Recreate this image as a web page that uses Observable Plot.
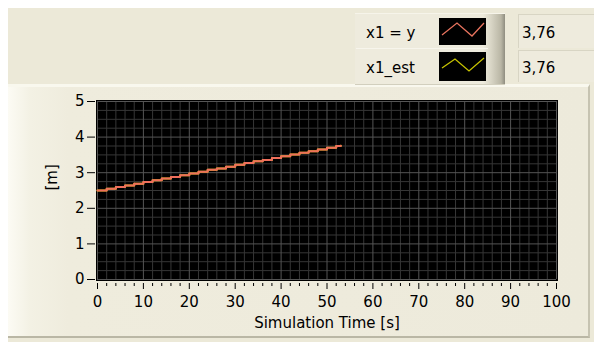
<!DOCTYPE html>
<html>
<head>
<meta charset="utf-8">
<script src="https://cdn.jsdelivr.net/npm/d3@7"></script>
<script src="https://cdn.jsdelivr.net/npm/@observablehq/plot@0.6"></script>
<style>
  html, body { margin: 0; padding: 0; background: #fff; }
  #root { position: relative; width: 594px; height: 342px; overflow: hidden; background: #fff; font-family: "DejaVu Sans", sans-serif; }
  .abs { position: absolute; box-sizing: border-box; }
  #root svg.plot { position: absolute; left: 0; top: 0; }
</style>
</head>
<body>
<div id="root">
  <div class="abs" style="left:8px;top:8px;width:586px;height:334px;background:#ECE9D8"></div>
  <div class="abs" style="left:8px;top:84px;width:582px;height:254px;background:linear-gradient(to right,#FCFBF4 0px,#F3F1E4 22px,#EFECDD 60px,#EDEADB 100%);border-top:3px solid #F9F8EE;border-right:2px solid #C6C3B1;border-bottom:2px solid #BAB7A5"></div>
  <!-- legend panel -->
  <div class="abs" style="left:355px;top:13px;width:150px;height:72px;background:linear-gradient(to right,#EEEBDD 0,#EEEBDD 128px,#D9D6C6 136px,#B9B6A5 146px,#8F8D80 150px);border-top:1px solid #F6F4EA;border-bottom:1px solid #D2CFBE"></div>
  <div class="abs" style="left:356px;top:48px;width:132px;height:1px;background:#F7F5EC"></div>
  <div class="abs" id="leg1" style="left:366px;top:23px;font-size:15px;line-height:20px;color:#000"></div>
  <div class="abs" id="leg2" style="left:366px;top:58px;font-size:15px;line-height:20px;color:#000"></div>
  <svg class="abs" style="left:439px;top:18px" width="47" height="27"><rect width="47" height="27" fill="#000"/><polyline points="3,17 18,5 33,18 45,5" fill="none" stroke="#E8735E" stroke-width="1.3"/></svg>
  <svg class="abs" style="left:439px;top:52px" width="47" height="29"><rect width="47" height="29" fill="#000"/><polyline points="3,16 16,7 30,19 45,6" fill="none" stroke="#C8C400" stroke-width="1.3"/></svg>
  <!-- value boxes -->
  <div class="abs" style="left:518px;top:14px;width:80px;height:34px;background:#EEEBDD;border-top:1px solid #D8D5C4;border-left:1px solid #D8D5C4"></div>
  <div class="abs" style="left:518px;top:50px;width:80px;height:32px;background:#EEEBDD;border-top:1px solid #D8D5C4;border-left:1px solid #D8D5C4"></div>
  <div class="abs" id="val1" style="left:522px;top:23px;font-size:15px;line-height:20px;color:#000"></div>
  <div class="abs" id="val2" style="left:522px;top:58px;font-size:15px;line-height:20px;color:#000"></div>
</div>
<script>
// Simulation time [s] (sample instants) and measured values [m]
const time = [0, 2, 4, 6, 8, 10, 12, 14, 16, 18, 20, 22, 24, 26, 28, 30, 32, 34, 36, 38, 40, 42, 44, 46, 48, 50, 52, 53];
const x1Y = [2.50, 2.55, 2.60, 2.64, 2.69, 2.74, 2.79, 2.84, 2.88, 2.93, 2.98, 3.03, 3.08, 3.12, 3.17, 3.22, 3.27, 3.32, 3.36, 3.41, 3.46, 3.51, 3.56, 3.60, 3.65, 3.70, 3.75, 3.76];
const x1Est = [2.50, 2.55, 2.60, 2.64, 2.69, 2.74, 2.79, 2.84, 2.88, 2.93, 2.98, 3.03, 3.08, 3.12, 3.17, 3.22, 3.27, 3.32, 3.36, 3.41, 3.46, 3.51, 3.56, 3.60, 3.65, 3.70, 3.75, 3.76];
const seriesNames = ["x1 = y", "x1_est"];
const currentValues = ["3,76", "3,76"];
const xTicks = [0, 10, 20, 30, 40, 50, 60, 70, 80, 90, 100];
const yTicks = [0, 1, 2, 3, 4, 5];
const xLabel = "Simulation Time [s]";
const yLabel = "[m]";

const xMinor = d3.range(0, 101, 2).filter(v => v % 10 !== 0);
const yMinor = d3.range(0, 5.001, 0.25).filter(v => Math.abs(v - Math.round(v)) > 1e-9);

const dataY = time.map((t, i) => ({t, v: x1Y[i]}));
const dataEst = time.map((t, i) => ({t, v: x1Est[i]}));

document.getElementById("leg1").textContent = seriesNames[0];
document.getElementById("leg2").textContent = seriesNames[1];
document.getElementById("val1").textContent = currentValues[0];
document.getElementById("val2").textContent = currentValues[1];

const chart = Plot.plot({
  width: 594,
  height: 342,
  marginLeft: 97,
  marginRight: 38,
  marginTop: 101,
  marginBottom: 63,
  style: {background: "transparent", fontFamily: "DejaVu Sans, sans-serif", fontSize: "15px", color: "#000", overflow: "visible"},
  x: {domain: [0, 100]},
  y: {domain: [0, 5]},
  marks: [
    Plot.frame({fill: "#000", stroke: "#000", inset: -1}),
    Plot.ruleX(xMinor, {x: d => d, stroke: "#363636", strokeWidth: 1}),
    Plot.ruleY(yMinor, {y: d => d, stroke: "#363636", strokeWidth: 1}),
    Plot.ruleX(xTicks, {x: d => d, stroke: "#555", strokeWidth: 1}),
    Plot.ruleY(yTicks, {y: d => d, stroke: "#555", strokeWidth: 1}),
    Plot.line(dataEst, {x: "t", y: "v", curve: "step-after", stroke: "#C8C400", strokeWidth: 2}),
    Plot.line(dataY, {x: "t", y: "v", curve: "step-after", stroke: "#EF6F5C", strokeWidth: 2}),
    Plot.axisX({ticks: xTicks, tickSize: 6, tickPadding: 7, dy: 4, tickFormat: d => String(d), stroke: "#000", fill: "#000", fontSize: 15, label: null}),
    Plot.axisX({ticks: xMinor, tickSize: 3, dy: 4, text: null, stroke: "#000", label: null}),
    Plot.axisY({ticks: yTicks, tickSize: 8, tickPadding: 3, dx: -2, tickFormat: d => String(d), stroke: "#000", fill: "#000", fontSize: 15, label: null}),
    Plot.text([xLabel], {frameAnchor: "bottom", dy: 48, text: d => d, fontSize: 15, fill: "#000"}),
    Plot.text([yLabel], {frameAnchor: "left", dx: -45, rotate: -90, text: d => d, fontSize: 15, fill: "#000"})
  ]
});
chart.classList.add("plot");
document.getElementById("root").appendChild(chart);
</script>
</body>
</html>
